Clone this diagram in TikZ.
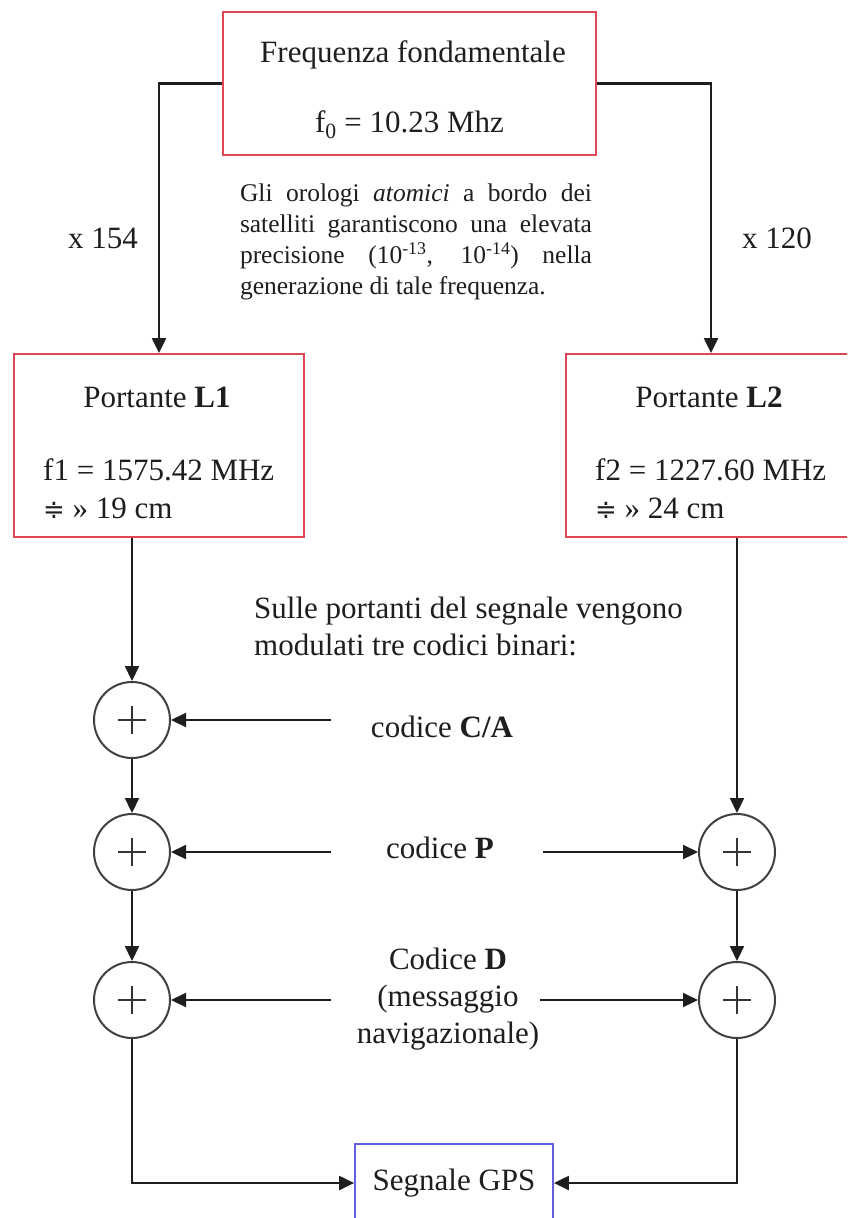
\documentclass[tikz,border=0pt]{standalone}
\usepackage{fontspec}
\setmainfont{Liberation Serif}
\newfontfamily\symfnt{DejaVu Sans}
\usetikzlibrary{arrows.meta}
\definecolor{boxred}{RGB}{222,72,82}
\definecolor{boxblue}{RGB}{96,96,224}
\definecolor{ln}{RGB}{30,30,30}
\begin{document}
\begin{tikzpicture}[x=1pt,y=-1pt,
  conn/.style={draw=ln, line width=2.2pt, -{Triangle[length=15pt,width=14pt]}},
  redbox/.style={draw=boxred, line width=1.8pt, rectangle, inner sep=0pt},
  bluebox/.style={draw=boxblue, line width=1.8pt, rectangle, inner sep=0pt},
  sumnode/.style={circle, draw=ln!85, line width=2pt, minimum size=76pt, inner sep=0pt,
    path picture={\draw[ln!90, line width=1.2pt]
      ([xshift=-14pt]path picture bounding box.center) -- ([xshift=14pt]path picture bounding box.center)
      ([yshift=-14pt]path picture bounding box.center) -- ([yshift=14pt]path picture bounding box.center);}},
  lbl/.style={font=\fontsize{31}{37}\selectfont, inner sep=0pt, text=ln},
  small/.style={font=\fontsize{25.5}{31}\selectfont, inner sep=0pt, text=ln}]
\useasboundingbox (0,0) rectangle (847,1218);
\clip (0,0) rectangle (847,1218);
\fill[white] (0,0) rectangle (847,1218);

% boxes
\node[redbox, minimum width=373pt, minimum height=143pt] (top) at (409.5,83.5) {};
\node[redbox, minimum width=290pt, minimum height=183pt] (L1) at (159,445.5) {};
\node[redbox, minimum width=290pt, minimum height=183pt] (L2) at (711,445.5) {};
\node[bluebox, minimum width=198pt, minimum height=78pt] (gps) at (454,1183) {};

% texts
\node[lbl] (tfreq) at (413,55) {Frequenza fondamentale};
\node[lbl] (tf0) at (409.5,125) {f\textsubscript{0} = 10.23 Mhz};
\node[lbl] (m154) at (103,238) {x 154};
\node[lbl] (m120) at (777,238) {x 120};
\node[small, text width=352pt, align=justify] (clock) at (416,241.5)
  {Gli orologi \textit{atomici} a bordo dei\linebreak
   satelliti garantiscono una elevata\linebreak
   precisione (10\textsuperscript{-13}, 10\textsuperscript{-14}) nella\linebreak
   generazione di tale frequenza.};
\node[lbl] (tL1) at (157,397) {Portante \textbf{L1}};
\node[lbl, anchor=west] (tf1) at (43,470) {f1 = 1575.42 MHz};
\node[lbl, anchor=west] (tl1) at (43,508) {{\symfnt\fontsize{26}{26}\selectfont ≑} » 19 cm};
\node[lbl] (tL2) at (709,397) {Portante \textbf{L2}};
\node[lbl, anchor=west] (tf2) at (595,470) {f2 = 1227.60 MHz};
\node[lbl, anchor=west] (tl2) at (595,508) {{\symfnt\fontsize{26}{26}\selectfont ≑} » 24 cm};
\node[lbl, anchor=west, align=left] (sulle) at (254,626)
  {Sulle portanti del segnale vengono\\ modulati tre codici binari:};
\node[lbl] (cca) at (442,727) {codice \textbf{C/A}};
\node[lbl] (cp) at (440,848) {codice \textbf{P}};
\node[lbl, align=center] (cd) at (448,999)
  {Codice \textbf{D}\\ (messaggio\\ navigazionale)};
\node[lbl] (tgps) at (gps) {Segnale GPS};

% summing nodes
\node[sumnode] (c1) at (132,720) {};
\node[sumnode] (c2) at (132,852) {};
\node[sumnode] (c3) at (132,1000) {};
\node[sumnode] (r2) at (737,852) {};
\node[sumnode] (r3) at (737,1000) {};

% free ends of code arrows
\coordinate (caL) at (331,720);
\coordinate (cpL) at (331,852);
\coordinate (cpR) at (543,852);
\coordinate (cdL) at (331,1000);
\coordinate (cdR) at (540,1000);

% connectors
\draw[conn] (top.west) -| (L1.north);
\draw[conn] (top.east) -| (L2.north);
\draw[conn] (L1.south -| c1.north) -- (c1.north);
\draw[conn] (c1) -- (c2);
\draw[conn] (c2) -- (c3);
\draw[conn] (L2.south -| r2.north) -- (r2.north);
\draw[conn] (r2) -- (r3);
\draw[conn] (caL) -- (c1);
\draw[conn] (cpL) -- (c2);
\draw[conn] (cpR) -- (r2);
\draw[conn] (cdL) -- (c3);
\draw[conn] (cdR) -- (r3);
\draw[conn] (c3) |- (gps.west);
\draw[conn] (r3) |- (gps.east);
\end{tikzpicture}
\end{document}
